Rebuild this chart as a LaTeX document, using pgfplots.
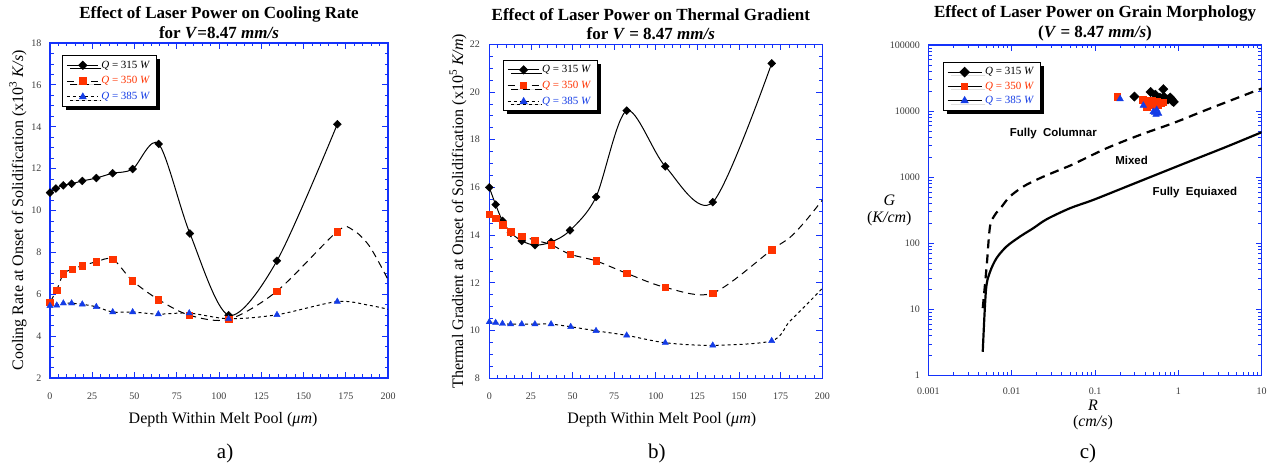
\documentclass[border=0pt]{standalone}
\usepackage{fontspec}
\setmainfont{Liberation Serif}
\newfontfamily\helv{Liberation Sans}
\usepackage{pgfplots}
\usepackage{pgfplotstable}
\pgfplotsset{compat=1.18}
\usetikzlibrary{shadows}
\definecolor{axblue}{RGB}{20,50,250}
\definecolor{sred}{RGB}{255,51,0}
\definecolor{sblue}{RGB}{20,60,230}
\definecolor{tickgray}{RGB}{60,60,60}

% ---------- Panel a: cooling rate ----------
\pgfplotstableread{
x y
0 10.85
3.5 11.05
7.9 11.2
12.8 11.28
19.1 11.41
27.4 11.55
37.1 11.78
48.9 11.98
64.3 13.18
82.8 8.9
105.7 5.0
134.3 7.6
170 14.12
}\aBlack
\pgfplotstableread{
x y
0 5.62
4 6.2
7.9 6.97
13.2 7.2
19.1 7.36
27.4 7.55
37.1 7.68
48.7 6.65
64.1 5.75
82.4 5.0
105.7 4.8
134.3 6.15
170 9.0
}\aRed
\pgfplotstableread{
x y
0 5.62
4 6.2
7.9 6.97
13.2 7.2
19.1 7.36
27.4 7.55
37.1 7.68
48.7 6.65
64.1 5.75
82.4 5.0
105.7 4.8
134.3 6.15
170 9.0
179 9.08
189 8.3
200 6.7
}\aRedLine
\pgfplotstableread{
x y
0 5.45
4 5.47
7.9 5.57
12.8 5.57
19.1 5.52
27.4 5.4
37.1 5.15
48.9 5.15
64.1 5.05
82.4 5.1
105.7 4.83
134.3 5.02
170 5.65
}\aBlue
\pgfplotstableread{
x y
0 5.45
4 5.47
7.9 5.57
12.8 5.57
19.1 5.52
27.4 5.4
37.1 5.15
48.9 5.15
64.1 5.05
82.4 5.1
105.7 4.83
134.3 5.02
170 5.65
189 5.47
200 5.28
}\aBlueLine

% ---------- Panel b: thermal gradient ----------
\pgfplotstableread{
x y
0 16.0
3.8 15.28
7.9 14.6
13 14.1
19.5 13.76
27.4 13.58
37.1 13.71
48.5 14.2
64.1 15.6
82.5 19.22
105.7 16.88
134.2 15.38
169.6 21.2
}\bBlack
\pgfplotstableread{
x y
0 14.88
3.8 14.71
7.9 14.43
13 14.15
19.5 13.96
27.4 13.79
37.1 13.6
48.5 13.2
64.1 12.92
82.5 12.4
105.7 11.81
134.2 11.57
169.6 13.38
}\bRed
\pgfplotstableread{
x y
0 14.88
3.8 14.71
7.9 14.43
13 14.15
19.5 13.96
27.4 13.79
37.1 13.6
48.5 13.2
64.1 12.92
82.5 12.4
105.7 11.81
134.2 11.57
169.6 13.38
180.5 13.9
190 14.6
200 15.47
}\bRedLine
\pgfplotstableread{
x y
0 10.36
3.8 10.33
7.9 10.29
12.8 10.27
19.5 10.27
27.4 10.27
37.1 10.27
48.9 10.16
64.1 9.99
82.5 9.8
105.7 9.49
134.2 9.38
169.6 9.57
}\bBlue
\pgfplotstableread{
x y
0 10.36
3.8 10.33
7.9 10.29
12.8 10.27
19.5 10.27
27.4 10.27
37.1 10.27
48.9 10.16
64.1 9.99
82.5 9.8
105.7 9.49
134.2 9.38
169.6 9.57
180 10.35
190 11.05
200 11.77
}\bBlueLine

% ---------- Panel c: grain morphology ----------
\pgfplotstableread{
x y
0.0045 2.3
0.00492 19.8
0.0055 37
0.0066 60
0.0087 90
0.0126 127
0.0182 170
0.0263 232
0.050 340
0.095 454
0.24 724
0.60 1150
1.51 1830
3.8 2900
10 4800
}\cSolid
\pgfplotstableread{
x y
0.0045 10.5
0.00501 44.6
0.0055 180
0.0063 270
0.0076 360
0.0095 510
0.0138 724
0.0219 970
0.038 1300
0.055 1580
0.138 2750
0.347 4370
0.87 6600
2.19 10500
10 22000
}\cDashed
\pgfplotstableread{
x y
0.297 16600
0.465 19500
0.66 21500
0.67 16600
0.75 15000
0.83 15100
0.85 14100
0.60 15900
0.53 17700
0.80 16000
0.88 13800
}\cBlack
\pgfplotstableread{
x y
0.185 16600
0.373 14800
0.417 11700
0.42 14300
0.48 14300
0.50 12300
0.55 14000
0.57 12300
0.65 13700
0.44 13000
0.62 13200
}\cRed
\pgfplotstableread{
x y
0.20 15300
0.38 12200
0.50 9800
0.54 8900
0.55 10500
0.58 9200
0.52 9500
}\cBlue

\pgfplotsset{
  myaxis/.style={
    scale only axis,
    clip mode=individual,
    axis line style={draw=axblue, line width=1.4pt},
    tick style={draw=axblue, line width=0.8pt},
    major tick length=6pt, minor tick length=3.5pt,
    ticklabel style={font=\fontsize{10}{12}\selectfont, text=tickgray},
    /pgf/number format/assume math mode=true,
    title style={anchor=south, yshift=-2pt, align=center, inner sep=0pt,
      font=\fontsize{17}{19.6}\selectfont\bfseries},
    label style={font=\fontsize{16}{16.6}\selectfont},
    legend style={draw=black, line width=1pt, fill=white,
      drop shadow={shadow xshift=3.5pt, shadow yshift=-3.5pt, fill=black, opacity=1},
      font=\fontsize{11}{12}\selectfont, legend cell align=left,
      anchor=north west, row sep=3pt, inner xsep=4pt, inner ysep=3pt,
      /tikz/every odd column/.append style={column sep=1pt},
      /tikz/every even column/.append style={column sep=6pt}},
  },
  linelegend/.style={legend image code/.code={\draw[mark repeat=2,mark phase=2,##1] plot coordinates {(0pt,0pt) (16pt,0pt) (31pt,0pt)};}},
  scatterlegend/.style={legend image code/.code={\draw[mark repeat=2,mark phase=2,##1] plot coordinates {(0pt,0pt) (17pt,0pt) (34pt,0pt)};}},
  blackline/.style={draw=black, line width=1pt, solid},
  redline/.style={draw=black, line width=1pt, dash pattern=on 7pt off 5pt},
  blueline/.style={draw=black, line width=1pt, dash pattern=on 3pt off 3pt},
  blackmark/.style={mark=square*, mark size=2.8pt, mark options={rotate=45, solid, fill=black, draw=black}},
  redmark/.style={mark=square*, mark size=3.3pt, mark options={solid, fill=sred, draw=sred}},
  bluemark/.style={mark=triangle*, mark size=3.6pt, mark options={solid, fill=sblue, draw=sblue}},
}

\begin{document}
\begin{tikzpicture}
\useasboundingbox (0,0) rectangle (1272pt,470pt);

% ===== Panel a =====
\begin{axis}[myaxis, at={(50pt,92pt)}, anchor=south west, width=338pt, height=335pt,
  xmin=0, xmax=200, ymin=2, ymax=18,
  xtick={0,25,...,200}, ytick={2,4,...,18},
  minor x tick num=4, minor y tick num=3,
  xticklabel style={yshift=-11pt}, yticklabel style={xshift=-5pt},
  title style={at={(0.5,1)}},
  title={Effect of Laser Power on Cooling Rate\\for \textit{V}=8.47 \textit{mm/s}},
  xlabel={Depth Within Melt Pool (\textit{μm})},
  ylabel={Cooling Rate at Onset of Solidification (x10\textsuperscript{3} \textit{K/s})},
  xlabel style={at={(axis description cs:0.512,-0.125)}, anchor=center},
  ylabel style={at={(axis description cs:-0.095,0.5)}, anchor=center},
  legend style={at={(0.035,0.963)}},
  linelegend,
]
\addlegendimage{blackline, blackmark}
\addlegendentry{\textit{Q} = 315 \textit{W}}
\addlegendimage{redline, redmark}
\addlegendentry{\textcolor{sred}{\textit{Q} = 350 \textit{W}}}
\addlegendimage{blueline, bluemark}
\addlegendentry{\textcolor{sblue}{\textit{Q} = 385 \textit{W}}}
\addplot[blackline, smooth, no markers, forget plot] table {\aBlack};
\addplot[redline, smooth, no markers, forget plot] table {\aRedLine};
\addplot[blueline, smooth, no markers, forget plot] table {\aBlueLine};
\addplot[only marks, blackmark, forget plot] table {\aBlack};
\addplot[only marks, redmark, forget plot] table {\aRed};
\addplot[only marks, bluemark, forget plot] table {\aBlue};
\node[font=\fontsize{21}{24}\selectfont] at (axis description cs:0.518,-0.224) {a)};
\end{axis}

% ===== Panel b =====
\begin{axis}[myaxis, at={(489.3pt,91.7pt)}, anchor=south west, width=333pt, height=334pt,
  xmin=0, xmax=200, ymin=8, ymax=22,
  xtick={0,25,...,200}, ytick={8,10,...,22},
  minor x tick num=4, minor y tick num=3,
  xticklabel style={yshift=-11pt}, yticklabel style={xshift=-6pt},
  title style={at={(0.485,1)}},
  title={Effect of Laser Power on Thermal Gradient\\for \textit{V} = 8.47 \textit{mm/s}},
  xlabel={Depth Within Melt Pool (\textit{μm})},
  ylabel={Thermal Gradient at Onset of Solidification (x10\textsuperscript{5} \textit{K/m})},
  xlabel style={at={(axis description cs:0.518,-0.125)}, anchor=center},
  ylabel style={at={(axis description cs:-0.094,0.5)}, anchor=center},
  legend style={at={(0.040,0.953)}},
  linelegend,
]
\addlegendimage{blackline, blackmark}
\addlegendentry{\textit{Q} = 315 \textit{W}}
\addlegendimage{redline, redmark}
\addlegendentry{\textcolor{sred}{\textit{Q} = 350 \textit{W}}}
\addlegendimage{blueline, bluemark}
\addlegendentry{\textcolor{sblue}{\textit{Q} = 385 \textit{W}}}
\addplot[blackline, smooth, no markers, forget plot] table {\bBlack};
\addplot[redline, smooth, no markers, forget plot] table {\bRedLine};
\addplot[blueline, smooth, no markers, forget plot] table {\bBlueLine};
\addplot[only marks, blackmark, forget plot] table {\bBlack};
\addplot[only marks, redmark, forget plot] table {\bRed};
\addplot[only marks, bluemark, forget plot] table {\bBlue};
\node[font=\fontsize{21}{24}\selectfont] at (axis description cs:0.503,-0.224) {b)};
\end{axis}

% ===== Panel c =====
\begin{axis}[myaxis, xmode=log, ymode=log, at={(928.3pt,94.3pt)}, anchor=south west,
  width=333.4pt, height=330.7pt,
  xmin=0.001, xmax=10, ymin=1, ymax=100000,
  xtick={0.001,0.01,0.1,1,10}, xticklabels={0.001,0.01,0.1,1,10},
  ytick={1,10,100,1000,10000,100000}, yticklabels={1,10,100,1000,10000,100000},
  minor xtick={0.002,0.003,0.004,0.005,0.006,0.007,0.008,0.009,0.02,0.03,0.04,0.05,0.06,0.07,0.08,0.09,0.2,0.3,0.4,0.5,0.6,0.7,0.8,0.9,2,3,4,5,6,7,8,9},
  minor ytick={2,3,4,5,6,7,8,9,20,30,40,50,60,70,80,90,200,300,400,500,600,700,800,900,2000,3000,4000,5000,6000,7000,8000,9000,20000,30000,40000,50000,60000,70000,80000,90000},
  xticklabel style={yshift=-9pt}, yticklabel style={xshift=-5pt},
  title style={at={(0.5,1)}},
  title={Effect of Laser Power on Grain Morphology\\(\textit{V} = 8.47 \textit{mm/s})},
  xlabel={\textit{R}\\(\textit{cm/s})},
  ylabel={\textit{G}\\(\textit{K/cm})},
  xlabel style={at={(axis description cs:0.494,-0.119)}, anchor=center, align=center},
  ylabel style={rotate=-90, at={(axis description cs:-0.117,0.5)}, anchor=center, align=center},
  legend style={at={(0.043,0.948)}, row sep=1.5pt},
  scatterlegend,
]
\addplot[draw=black, line width=2.2pt, smooth, no markers, forget plot] table {\cSolid};
\addplot[draw=black, line width=2.2pt, smooth, dash pattern=on 9pt off 6pt, no markers, forget plot] table {\cDashed};
\addlegendimage{draw=none, mark=square*, mark size=3.3pt, mark options={rotate=45, fill=black, draw=black}}
\addlegendentry{\textit{Q} = 315 \textit{W}}
\addlegendimage{draw=none, mark=square*, mark size=3.3pt, mark options={fill=sred, draw=sred}}
\addlegendentry{\textcolor{sred}{\textit{Q} = 350 \textit{W}}}
\addlegendimage{draw=none, mark=triangle*, mark size=3.8pt, mark options={fill=sblue, draw=sblue}}
\addlegendentry{\textcolor{sblue}{\textit{Q} = 385 \textit{W}}}
\addplot[only marks, mark=square*, mark size=3.3pt, mark options={rotate=45, fill=black, draw=black}, forget plot] table {\cBlack};
\addplot[only marks, mark=square*, mark size=3.3pt, mark options={fill=sred, draw=sred}, forget plot] table {\cRed};
\addplot[only marks, mark=triangle*, mark size=3.8pt, mark options={fill=sblue, draw=sblue}, forget plot] table {\cBlue};
\node[font=\helv\bfseries\fontsize{11.5}{13}\selectfont] at (axis cs:0.0316,4550) {Fully\ \ Columnar};
\node[font=\helv\bfseries\fontsize{11.5}{13}\selectfont] at (axis cs:0.275,1770) {Mixed};
\node[font=\helv\bfseries\fontsize{11.5}{13}\selectfont] at (axis cs:1.58,585) {Fully\ \ Equiaxed};
\node[font=\fontsize{21}{24}\selectfont] at (axis description cs:0.479,-0.234) {c)};
\end{axis}
\end{tikzpicture}
\end{document}
